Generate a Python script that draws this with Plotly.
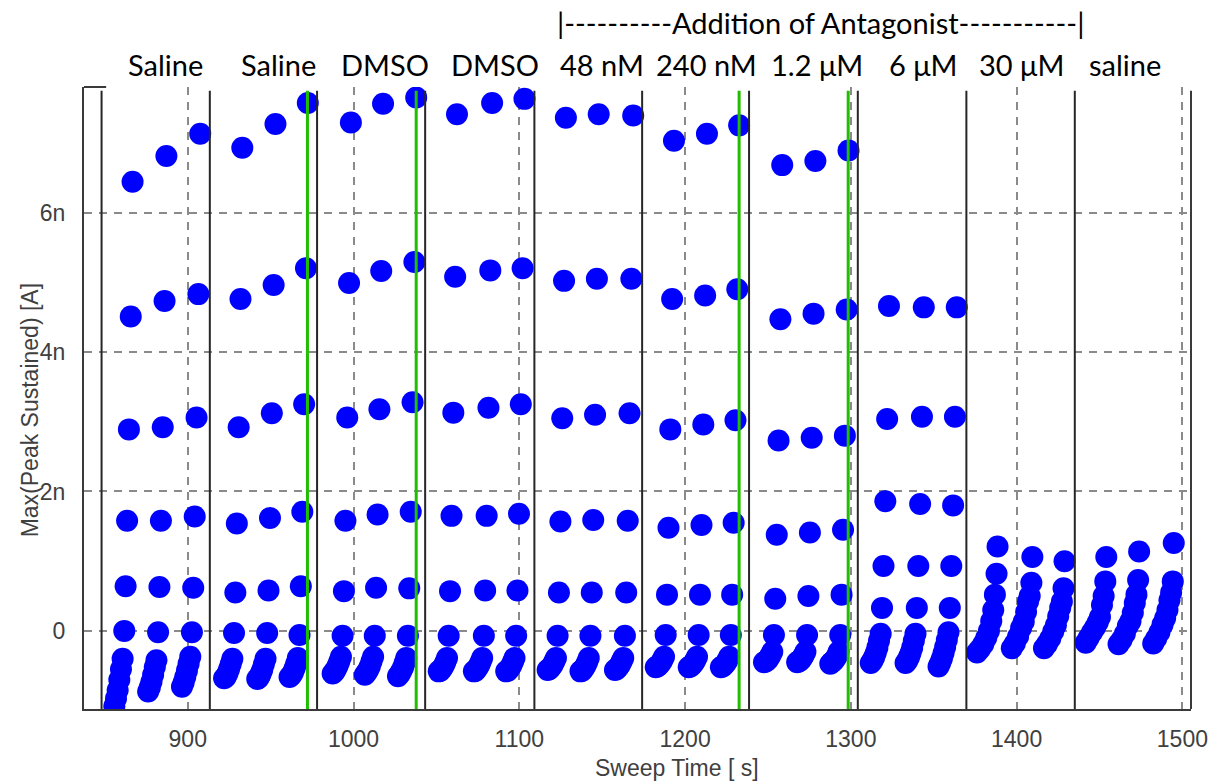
import plotly.graph_objects as go

# Start times (s) of each solution period; a period ends where the next begins
period_starts = [848.0, 913.3, 978.0, 1043.2, 1109.1, 1174.1, 1238.6, 1304.2, 1369.7, 1435.1]
period_labels = ["Saline", "Saline", "DMSO", "DMSO", "48 nM", "240 nM",
                 "1.2 \u03bcM", "6 \u03bcM", "30 \u03bcM", "saline"]
antagonist_banner = "|----------Addition of Antagonist-----------|"

# Sweeps flagged during the recording (green markers)
flagged_sweep_times = [972.2, 1037.8, 1232.6, 1298.4]

# Sweep times (s): time of the last step of each sweep, three sweeps per period
sweep_times = [
    [866.7, 887.1, 907.5],
    [932.9, 952.9, 972.4],
    [998.4, 1017.8, 1037.8],
    [1062.4, 1083.6, 1103.1],
    [1128.1, 1147.9, 1168.7],
    [1193.3, 1213.2, 1232.6],
    [1258.6, 1278.6, 1298.6],
    [1323.0, 1344.0, 1363.9],
    [1388.5, 1409.5, 1428.9],
    [1454.1, 1473.9, 1494.8],
]

# Time of each step relative to the last step of its sweep (s)
step_offsets_long = [0.0, -1.1, -2.2, -3.3, -4.2, -5.0, -6.0, -7.0, -8.0, -9.0, -10.0, -11.0]
step_offsets_short = [0.0, -0.6, -1.6, -2.6, -3.8, -5.2, -6.8, -8.6, -10.6, -12.4]

# Max(peak, sustained) current per step, in nA
peak_currents_nA = [
    [[6.44, 4.51, 2.89, 1.58, 0.64, 0.00, -0.40, -0.55, -0.70, -0.85, -0.97, -1.08],
     [6.81, 4.73, 2.92, 1.58, 0.63, -0.02, -0.42, -0.52, -0.63, -0.73, -0.81, -0.87],
     [7.13, 4.83, 3.06, 1.64, 0.62, -0.02, -0.37, -0.47, -0.57, -0.66, -0.74, -0.80]],
    [[6.93, 4.76, 2.92, 1.54, 0.55, -0.03, -0.40, -0.48, -0.55, -0.61, -0.66, -0.68],
     [7.27, 4.96, 3.12, 1.62, 0.58, -0.03, -0.40, -0.48, -0.56, -0.62, -0.67, -0.69],
     [7.57, 5.20, 3.25, 1.71, 0.64, -0.06, -0.39, -0.47, -0.54, -0.60, -0.64, -0.66]],
    [[7.29, 4.99, 3.06, 1.58, 0.57, -0.07, -0.37, -0.44, -0.50, -0.55, -0.59, -0.61],
     [7.56, 5.16, 3.18, 1.67, 0.62, -0.07, -0.37, -0.44, -0.51, -0.56, -0.60, -0.63],
     [7.65, 5.29, 3.28, 1.71, 0.61, -0.07, -0.39, -0.46, -0.53, -0.58, -0.62, -0.65]],
    [[7.41, 5.08, 3.13, 1.65, 0.57, -0.07, -0.39, -0.45, -0.50, -0.54, -0.57, -0.58],
     [7.57, 5.17, 3.20, 1.65, 0.58, -0.07, -0.39, -0.45, -0.50, -0.54, -0.57, -0.58],
     [7.63, 5.20, 3.25, 1.68, 0.58, -0.07, -0.39, -0.45, -0.50, -0.54, -0.57, -0.58]],
    [[7.36, 5.02, 3.05, 1.57, 0.55, -0.07, -0.39, -0.44, -0.49, -0.52, -0.55, -0.56],
     [7.41, 5.05, 3.10, 1.59, 0.55, -0.07, -0.39, -0.45, -0.50, -0.54, -0.57, -0.58],
     [7.39, 5.05, 3.12, 1.58, 0.55, -0.07, -0.39, -0.44, -0.49, -0.52, -0.55, -0.56]],
    [[7.03, 4.76, 2.89, 1.48, 0.52, -0.06, -0.37, -0.42, -0.46, -0.49, -0.51, -0.52],
     [7.13, 4.81, 2.96, 1.52, 0.52, -0.06, -0.37, -0.42, -0.46, -0.49, -0.51, -0.52],
     [7.25, 4.90, 3.02, 1.55, 0.52, -0.06, -0.37, -0.42, -0.46, -0.49, -0.51, -0.52]],
    [[6.68, 4.47, 2.73, 1.38, 0.46, -0.06, -0.30, -0.35, -0.39, -0.42, -0.44, -0.45],
     [6.74, 4.55, 2.77, 1.41, 0.50, -0.06, -0.30, -0.35, -0.39, -0.42, -0.44, -0.45],
     [6.89, 4.61, 2.80, 1.45, 0.52, -0.06, -0.30, -0.36, -0.40, -0.43, -0.45, -0.47]],
    [[4.66, 3.04, 1.86, 0.93, 0.33, -0.04, -0.14, -0.24, -0.32, -0.38, -0.43, -0.46],
     [4.64, 3.07, 1.82, 0.93, 0.33, -0.04, -0.14, -0.24, -0.32, -0.38, -0.43, -0.46],
     [4.64, 3.07, 1.80, 0.93, 0.33, -0.02, -0.13, -0.23, -0.32, -0.40, -0.46, -0.51]],
    [[1.21, 0.82, 0.52, 0.30, 0.14, 0.00, -0.10, -0.19, -0.26, -0.31],
     [1.06, 0.69, 0.50, 0.42, 0.27, 0.13, 0.04, -0.08, -0.18, -0.25],
     [1.00, 0.61, 0.42, 0.33, 0.21, 0.08, -0.01, -0.11, -0.19, -0.25]],
    [[1.06, 0.71, 0.50, 0.37, 0.20, 0.12, 0.05, -0.02, -0.10, -0.17],
     [1.14, 0.73, 0.52, 0.40, 0.26, 0.14, 0.07, -0.04, -0.13, -0.19],
     [1.26, 0.71, 0.55, 0.44, 0.30, 0.18, 0.09, -0.02, -0.11, -0.18]],
]

x_ticks = [900, 1000, 1100, 1200, 1300, 1400, 1500]
y_ticks = [0, 2e-9, 4e-9, 6e-9]
y_tick_text = ["0", "2n", "4n", "6n"]

# ---- assemble the scatter points ----
xs, ys = [], []
for times, currents in zip(sweep_times, peak_currents_nA):
    for t_end, sweep in zip(times, currents):
        offsets = step_offsets_long if len(sweep) == len(step_offsets_long) else step_offsets_short
        for dt, i_nA in zip(offsets, sweep):
            xs.append(t_end + dt)
            ys.append(i_nA * 1e-9)

fig = go.Figure()
fig.add_trace(go.Scatter(
    x=xs, y=ys, mode="markers",
    marker=dict(size=22, color="#0000ff", line=dict(width=0)),
    hoverinfo="x+y", showlegend=False,
))

shapes = []
# period separators
for t in period_starts:
    shapes.append(dict(type="line", xref="x", yref="paper", x0=t, x1=t, y0=0, y1=0.994,
                       line=dict(color="#262626", width=2), layer="above"))
# flagged sweeps
for t in flagged_sweep_times:
    shapes.append(dict(type="line", xref="x", yref="paper", x0=t, x1=t, y0=0, y1=0.994,
                       line=dict(color="#1fbf00", width=3), layer="above"))
# right frame edge and short top stub
shapes.append(dict(type="line", xref="paper", yref="paper", x0=1, x1=1, y0=0, y1=0.994,
                   line=dict(color="#3a3a3a", width=2), layer="above"))
shapes.append(dict(type="line", xref="paper", yref="paper", x0=0, x1=0.02, y0=1, y1=1,
                   line=dict(color="#3a3a3a", width=2), layer="above"))

label_font = dict(family="Lato, Open Sans, sans-serif", size=29, color="#000000")
label_x_px = [166, 280, 387, 498, 605, 710, 822, 929, 1027, 1132]
annotations = []
for lbl, px in zip(period_labels, label_x_px):
    annotations.append(dict(text=lbl, xref="paper", yref="paper",
                            x=(px - 84) / 1114, y=(709 - 65) / 622,
                            xanchor="center", yanchor="middle", showarrow=False, font=label_font))
annotations.append(dict(text=antagonist_banner, xref="paper", yref="paper",
                        x=(825 - 84) / 1114, y=(709 - 22) / 622,
                        xanchor="center", yanchor="middle", showarrow=False, font=label_font))
axis_font = dict(family="Liberation Sans, Arial, sans-serif", size=23, color="#404040")
annotations.append(dict(text="Sweep Time [ s]", xref="paper", yref="paper",
                        x=(681 - 84) / 1114, y=(709 - 768) / 622,
                        xanchor="center", yanchor="middle", showarrow=False, font=axis_font))
annotations.append(dict(text="Max(Peak Sustained) [A]", xref="paper", yref="paper",
                        x=(30 - 84) / 1114, y=(709 - 410) / 622, textangle=-90,
                        xanchor="center", yanchor="middle", showarrow=False, font=axis_font))

fig.update_layout(
    width=1220, height=783,
    margin=dict(l=84, r=22, t=87, b=74, pad=0),
    paper_bgcolor="white", plot_bgcolor="white",
    shapes=shapes, annotations=annotations,
    xaxis=dict(range=[837.4, 1505.2], tickvals=x_ticks, showgrid=True,
               gridcolor="#8a8a8a", gridwidth=1.5, griddash="8px,7px",
               zeroline=False, showline=True, linecolor="#3a3a3a", linewidth=2,
               ticks="", tickfont=axis_font, ticklabelstandoff=8),
    yaxis=dict(range=[-1.12e-9, 7.80e-9], tickvals=y_ticks, ticktext=y_tick_text,
               showgrid=True, gridcolor="#8a8a8a", gridwidth=1.5, griddash="8px,7px",
               zeroline=False, showline=True, linecolor="#3a3a3a", linewidth=2,
               ticks="", tickfont=axis_font, ticklabelstandoff=12),
)

fig.write_html("out.html")
